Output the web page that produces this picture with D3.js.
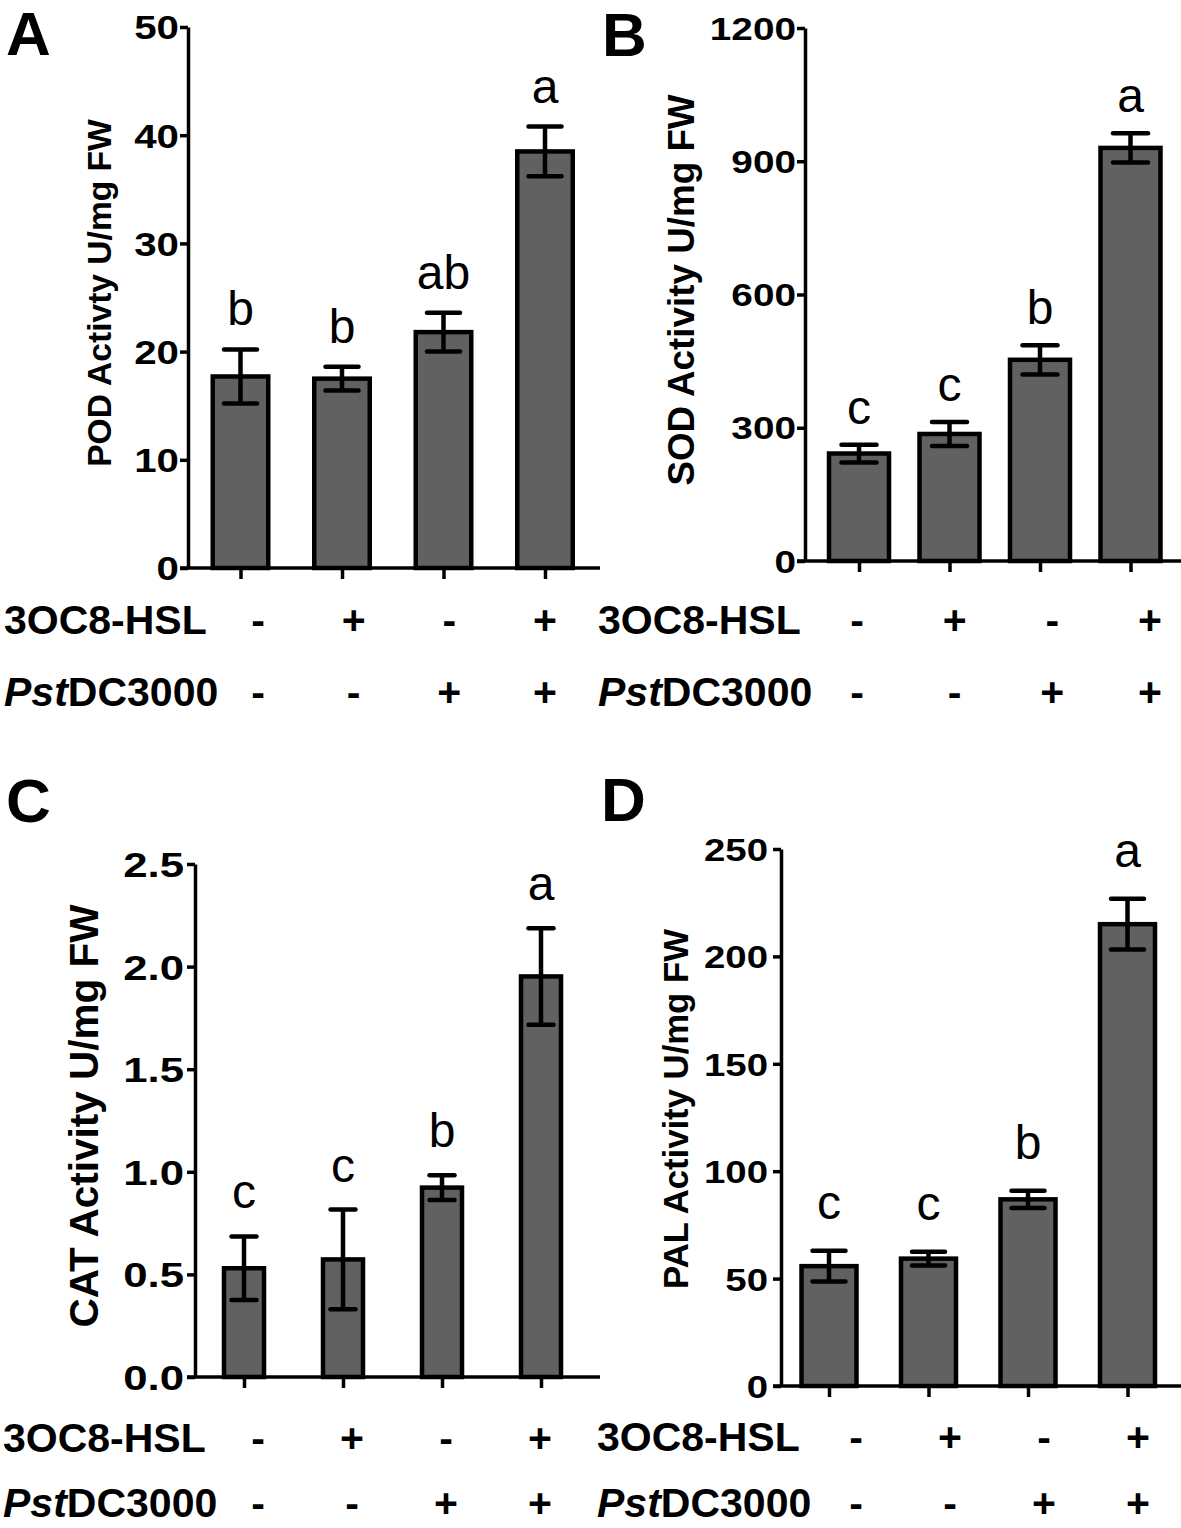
<!DOCTYPE html>
<html><head><meta charset="utf-8">
<script src="https://cdn.jsdelivr.net/npm/d3@7"></script>
<style>
body{margin:0;background:#fff}
svg{display:block}
text{font-family:"Liberation Sans",Arial,Helvetica,sans-serif;fill:#000}
</style>
</head><body>
<svg id="chart" width="1181" height="1528"></svg>
<script>
// ---------- DATA ----------
const groups = ["G1", "G2", "G3", "G4"];
const hslSigns = ["-", "+", "-", "+"];
const pstSigns = ["-", "-", "+", "+"];

const podMean = [17.7, 17.5, 21.8, 38.5];
const podErr = [2.5, 1.1, 1.8, 2.3];
const podLetters = ["b", "b", "ab", "a"];
const podTicks = [0, 10, 20, 30, 40, 50];

const sodMean = [242, 286, 453, 930];
const sodErr = [20, 27, 33, 33];
const sodLetters = ["c", "c", "b", "a"];
const sodTicks = [0, 300, 600, 900, 1200];

const catMean = [0.53, 0.573, 0.923, 1.952];
const catErr = [0.155, 0.243, 0.06, 0.235];
const catLetters = ["c", "c", "b", "a"];
const catTicks = [0, 0.5, 1.0, 1.5, 2.0, 2.5];

const palMean = [55.8, 59.3, 86.9, 215];
const palErr = [7.2, 3.2, 4.0, 11.8];
const palLetters = ["c", "c", "b", "a"];
const palTicks = [0, 50, 100, 150, 200, 250];

const yLabels = ["POD Activty U/mg FW", "SOD Activity U/mg FW", "CAT Activity U/mg FW", "PAL Activity U/mg FW"];
const panelLetters = ["A", "B", "C", "D"];
const rowLabelHSL = "3OC8-HSL";

// ---------- LAYOUT ----------
const panels = [
  {letter: panelLetters[0], mean: podMean, err: podErr, letters: podLetters, ticks: podTicks, fmt: d3.format("d"), ylabel: yLabels[0],
   axisX: 188, top: 27, bottom: 568, right: 600, c0: 240.5, c1: 545, barW: 55.5, capW: 33, gap: 24,
   tickFont: 33, tickSX: 1.22, tickGap: 9, ylFont: 33.6, ylX: 111, ylY: 293,
   pLX: 6, pLY: 55, rowX: 4, row1: 634, row2: 706, s0: 258, s1: 545},
  {letter: panelLetters[1], mean: sodMean, err: sodErr, letters: sodLetters, ticks: sodTicks, fmt: d3.format("d"), ylabel: yLabels[1],
   axisX: 805, top: 28, bottom: 561, right: 1181, c0: 859, c1: 1130.5, barW: 60, capW: 35, gap: 21,
   tickFont: 31, tickSX: 1.25, tickGap: 9, ylFont: 36.8, ylX: 694, ylY: 290,
   pLX: 602, pLY: 56, rowX: 598, row1: 634, row2: 706, s0: 857, s1: 1150},
  {letter: panelLetters[2], mean: catMean, err: catErr, letters: catLetters, ticks: catTicks, fmt: d3.format(".1f"), ylabel: yLabels[2],
   axisX: 195, top: 864, bottom: 1377, right: 600, c0: 244, c1: 541, barW: 40, capW: 25, gap: 28,
   tickFont: 35, tickSX: 1.25, tickGap: 11, ylFont: 40.5, ylX: 98, ylY: 1116,
   pLX: 6, pLY: 822, rowX: 3, row1: 1452, row2: 1517, s0: 258, s1: 540},
  {letter: panelLetters[3], mean: palMean, err: palErr, letters: palLetters, ticks: palTicks, fmt: d3.format("d"), ylabel: yLabels[3],
   axisX: 781, top: 849, bottom: 1386, right: 1181, c0: 829, c1: 1127.5, barW: 55, capW: 33, gap: 32,
   tickFont: 32, tickSX: 1.2, tickGap: 13, ylFont: 34.7, ylX: 688, ylY: 1109,
   pLX: 601, pLY: 821, rowX: 597, row1: 1451, row2: 1517, s0: 856, s1: 1138}
];

const svg = d3.select("#chart");
const FILL = "#616161";

panels.forEach(p => {
  const g = svg.append("g");
  const x = d3.scalePoint().domain(groups).range([p.c0, p.c1]);
  const y = d3.scaleLinear().domain([0, p.ticks[p.ticks.length - 1]]).range([p.bottom, p.top]);
  const sx = d3.scalePoint().domain(groups).range([p.s0, p.s1]);
  const data = groups.map((k, i) => ({k, m: p.mean[i], e: p.err[i], l: p.letters[i], h: hslSigns[i], s: pstSigns[i]}));

  // y axis
  const ya = g.append("g").attr("transform", `translate(${p.axisX},0)`)
    .call(d3.axisLeft(y).tickValues(p.ticks).tickFormat(p.fmt).tickSize(8).tickSizeOuter(0));
  ya.select(".domain").attr("stroke", "#000").attr("stroke-width", 3.5);
  ya.selectAll(".tick line").attr("stroke", "#000").attr("stroke-width", 3.5);
  ya.selectAll(".tick text")
    .attr("x", null).attr("dy", null)
    .attr("transform", `translate(${-p.tickGap},${p.tickFont * 0.358}) scale(${p.tickSX},1)`)
    .attr("text-anchor", "end")
    .style("font-size", p.tickFont + "px").style("font-weight", "bold")
    .style("font-family", '"Liberation Sans",Arial,sans-serif').attr("fill", "#000");

  // x axis (ticks at group centres)
  const xa = g.append("g").attr("transform", `translate(0,${p.bottom})`)
    .call(d3.axisBottom(x).tickSize(11).tickFormat(""));
  xa.select(".domain").remove();
  xa.selectAll(".tick line").attr("stroke", "#000").attr("stroke-width", 3.5);
  g.append("line").attr("x1", p.axisX - 8).attr("x2", p.right)
    .attr("y1", p.bottom).attr("y2", p.bottom).attr("stroke", "#000").attr("stroke-width", 3.5);

  // bars
  g.selectAll("rect.bar").data(data).join("rect").attr("class", "bar")
    .attr("x", d => x(d.k) - p.barW / 2).attr("width", p.barW)
    .attr("y", d => y(d.m)).attr("height", d => p.bottom - y(d.m))
    .attr("fill", FILL).attr("stroke", "#000").attr("stroke-width", 4.5);

  // error bars
  const eb = g.selectAll("g.eb").data(data).join("g").attr("class", "eb")
    .attr("stroke", "#000").attr("stroke-width", 4.5).attr("stroke-linecap", "round");
  eb.append("line").attr("x1", d => x(d.k)).attr("x2", d => x(d.k))
    .attr("y1", d => y(d.m - d.e)).attr("y2", d => y(d.m + d.e)).attr("stroke-linecap", "butt");
  eb.append("line").attr("x1", d => x(d.k) - p.capW / 2).attr("x2", d => x(d.k) + p.capW / 2)
    .attr("y1", d => y(d.m + d.e)).attr("y2", d => y(d.m + d.e));
  eb.append("line").attr("x1", d => x(d.k) - p.capW / 2).attr("x2", d => x(d.k) + p.capW / 2)
    .attr("y1", d => y(d.m - d.e)).attr("y2", d => y(d.m - d.e));

  // significance letters
  g.selectAll("text.sig").data(data).join("text").attr("class", "sig")
    .attr("x", d => x(d.k)).attr("y", d => y(d.m + d.e) - p.gap)
    .attr("text-anchor", "middle").style("font-size", "48px").text(d => d.l);

  // y label
  g.append("text")
    .attr("transform", `translate(${p.ylX},${p.ylY}) rotate(-90)`)
    .attr("text-anchor", "middle").style("font-size", p.ylFont + "px").style("font-weight", "bold")
    .text(p.ylabel);

  // panel letter
  g.append("text").attr("x", p.pLX).attr("y", p.pLY)
    .style("font-size", "62px").style("font-weight", "bold").text(p.letter);

  // treatment rows
  g.append("text").attr("x", p.rowX).attr("y", p.row1)
    .style("font-size", "41px").style("font-weight", "bold").text(rowLabelHSL);
  const r2 = g.append("text").attr("x", p.rowX).attr("y", p.row2)
    .style("font-size", "41px").style("font-weight", "bold");
  r2.append("tspan").style("font-style", "italic").text("Pst");
  r2.append("tspan").text("DC3000");

  g.selectAll("text.s1").data(data).join("text").attr("class", "s1")
    .attr("x", d => sx(d.k)).attr("y", p.row1).attr("text-anchor", "middle")
    .style("font-size", "41px").style("font-weight", "bold").text(d => d.h);
  g.selectAll("text.s2").data(data).join("text").attr("class", "s2")
    .attr("x", d => sx(d.k)).attr("y", p.row2).attr("text-anchor", "middle")
    .style("font-size", "41px").style("font-weight", "bold").text(d => d.s);
});
</script>
</body></html>
